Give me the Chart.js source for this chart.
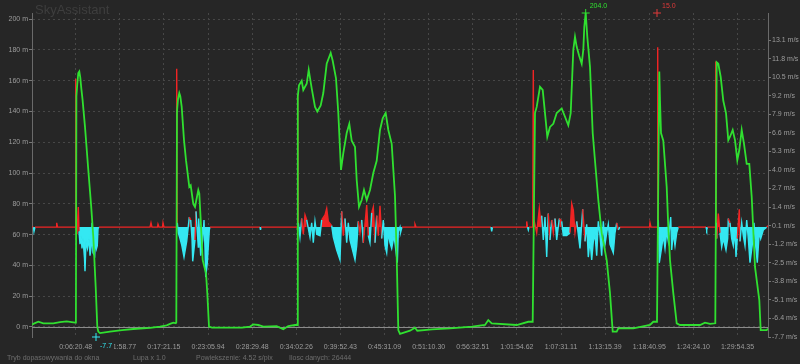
<!DOCTYPE html>
<html lang="pl">
<head>
<meta charset="UTF-8">
<title>SkyAssistant</title>
<script src="https://cdn.jsdelivr.net/npm/chart.js"></script>
<style>
  body { margin: 0; background: #262626; }
  #wrap { position: relative; width: 800px; height: 364px; background: #262626; overflow: hidden;
          font-family: "Liberation Sans", Arial, sans-serif; }
  #title { position: absolute; left: 35px; top: 2px; font-size: 13px; color: #3e3e3e; }
  .status { position: absolute; top: 354px; font-size: 7px; color: #6e6e6e; white-space: nowrap; }
</style>
</head>
<body>
<div id="wrap">
  <canvas id="flight" width="800" height="364"></canvas>
  <div id="title">SkyAssistant</div>
  <span class="status" style="left:7px">Tryb dopasowywania do okna</span>
  <span class="status" style="left:133px">Lupa x 1.0</span>
  <span class="status" style="left:196px">Powiekszenie: 4.52 s/pix</span>
  <span class="status" style="left:289px">Ilosc danych: 26444</span>
</div>
<script>
// x = position along the record (0..736), ticks labelled with flight time
const xTickPos = [43.7, 87.8, 131.9, 176.1, 220.2, 264.3, 308.4, 352.5, 396.7, 440.8, 484.9, 529.0, 573.1, 617.3, 661.4, 705.5];
const xTickLabels = ['0:06:20.48', '0:11:58.77', '0:17:21.15', '0:23:05.94', '0:28:29.48', '0:34:02.26', '0:39:52.43', '0:45:31.09',
                     '0:51:10.30', '0:56:32.51', '1:01:54.62', '1:07:31.11', '1:13:15.39', '1:18:40.95', '1:24:24.10', '1:29:54.35'];
const altTicks = [0, 20, 40, 60, 80, 100, 120, 140, 160, 180, 200];
const vsTicks = [-7.7, -6.4, -5.1, -3.8, -2.5, -1.2, 0.1, 1.4, 2.7, 4.0, 5.3, 6.6, 7.9, 9.2, 10.5, 11.8, 13.1];

// altitude [position, m]
const altitude = [
  [0,1.5],[1.3,2.0],[6.3,3.4],[11.3,2.4],[21.3,2.4],[28,3.2],[34.7,3.7],[39.7,3.2],[43.3,2.8],
  [43.9,3],[44.4,150],[45.3,158],[46.3,165],[47.3,166],[48.3,162],[49.3,155],[50.5,148],[53,130],[56.3,102],
  [59,80],[61.3,58.6],[63.7,26],[65.3,0],[66.3,-3],[68,-4],[78,-3],[90,-2],[101.3,-1.3],[118,-0.6],[128,0.2],
  [134.7,1.1],[138,2.0],[141.3,2.8],[143.7,2.4],[144.3,3],[145,140],[146,148],[147.3,152],[148.3,150],[149.7,143],
  [152,121.4],[154,108.4],[157.3,91],[158.7,92],[161.3,80],[163,78],[166.3,89],[167.3,86.8],[168.7,69.5],[170.7,43.5],
  [174,34.9],[175.3,21.9],[177,0.2],[180,-0.4],[210,-0.4],[218,0.3],[221.3,1.7],[226.3,1.3],[231.3,0.2],[244.7,0.6],
  [251.3,-1.5],[256.3,0.6],[263,1.3],[265.3,1.3],[265.8,150],[267,157],[269.7,160],[271.3,154],[274.7,158],[276.7,167],
  [279.7,155],[283,143],[285.3,140],[288.7,144],[291.3,152],[294.7,171],[298.7,178],[300.7,173],[304,161.5],[306.3,139],
  [309,102],[311.3,113],[314.7,126],[317.3,132],[319.7,121],[323,117],[324.7,95.5],[327,78],[329.7,82.5],[332,89],
  [334.7,82.5],[338,89],[341.3,100],[344.7,108],[348,128],[350.7,135.5],[353.7,139],[356.3,128],[359.7,119],[363,85],
  [364.7,46],[366.3,-2],[368,-4.5],[378,-2.4],[383,-0.4],[385.3,-2.4],[400,-1.5],[418,-0.9],[440,0.2],[453,1.3],
  [456.3,4.5],[459.7,2.4],[484.7,1.3],[496.3,3.4],[500.7,3.4],[503,139],[504.7,143],[508,156],[510.7,154],[513,139],
  [515.3,123.6],[518,130],[521.3,132],[524.7,139],[529.7,142],[533,136.6],[536.3,131],[538.7,139],[541.3,180],[543,188.5],
  [544.7,182],[547,176.6],[549.7,171],[551.3,180],[552.3,195],[553.7,204],[555.3,188.5],[558,169],[560.7,126],[563,108],
  [566.3,82.5],[569.7,61],[574.7,43.5],[578,22],[580.7,-3],[584.7,-3],[586.3,-0.9],[601.3,-0.9],[618,1.3],[621.3,3.4],
  [625,3.4],[627.3,166],[628,147],[629,126],[631.3,121],[634.7,91],[636.3,65],[638,43.5],[641.3,22],[644.7,2.4],
  [648,1.3],[668,1.3],[673,2.8],[678,2.0],[683.3,2.4],[684.7,172],[686.3,171],[688.7,162.5],[691.3,147],[694,139],
  [696.3,121.4],[698,123.6],[700.7,128],[703,121.4],[705.3,108.4],[707.3,115],[709.7,128],[712,119],[714.7,106],[717.3,106],
  [719.7,84.6],[723,39],[727.3,17.5],[728.7,-2],[734.7,-2],[736,-1]
];

// vertical speed [position, m/s]
const vspeed = [
  [0,0],[1.5,0],[2,-0.3],[3,0],[24,0],[24.7,0.3],[25.5,0],[43,0],[43.7,10.4],[44.3,0.5],[45,-0.5],[46.3,1.4],[47,-0.3],[48,-1.2],
  [49,-0.6],[50,-1.5],[51,-0.8],[52.5,-2.2],[53,-3.1],[54,-1.0],[55.5,-1.5],[57,-0.8],[58,-2.0],[59.5,-1.2],[60,0.3],
  [61,-1.8],[62.7,-2.0],[63.5,-0.8],[64.5,-1.5],[65.3,-1.3],[66,-0.1],[67,0],[118,0],[119,0.3],[120,0],[125.5,0],[126,0.2],[127,0],
  [130.5,0],[131,0.3],[132,0],[144,0],[144.7,11.1],[145.3,0.3],[146.3,-0.4],[148,-0.8],[149.7,-1.25],[152,-2.1],[154.7,-1.0],
  [157.3,0.7],[158.7,0.5],[160,-0.8],[160.7,-2.4],[163,-0.9],[164,1.1],[166.3,-1.4],[166.7,0.6],[168.7,-2.0],[170.7,-0.9],
  [172,0.5],[173,-1.5],[173.7,-3.5],[175.3,-2.5],[177.3,-0.2],[178,0],[228,0],[228.5,-0.2],[229,0],[265.3,0],[265.7,9.3],
  [266.3,0.3],[268,-0.7],[269.7,0.6],[271.3,-0.5],[273,0.85],[274.7,0.5],[278,-0.7],[279.7,0.3],[281.3,-1.1],[283,0.4],
  [284.7,-0.5],[288,-0.6],[289.7,0.5],[293,0.85],[294.7,1.3],[296.3,0.4],[299.7,0.1],[301.3,-0.7],[304.7,-1.6],[308,-2.3],
  [309.7,1.1],[311.3,-0.6],[313,0.6],[314.7,-1.1],[316.3,0.3],[318,-0.9],[323,-2.3],[324.7,-1.3],[326.3,0.4],[328,-0.4],
  [329.7,0.5],[331.3,-1.1],[334.7,1.55],[336.3,-0.6],[338,-1.1],[339.7,1.0],[341.3,1.4],[343,-1.1],[344.7,0.8],[346.3,-0.6],
  [348,1.5],[349.7,-0.8],[351.3,0.5],[353,-1.3],[354.7,-1.8],[356.3,-0.4],[358,-1.1],[359.7,-1.5],[362,-0.6],[363.3,-1.3],
  [365.3,-2.5],[366.3,-0.3],[368,0],[368.5,-0.4],[370,0],[382.5,0],[383,0.2],[384,0],[459,0],[459.7,-0.3],[460.5,0],[494,0],
  [494.7,0.4],[495.5,0],[496.3,-0.2],[497,0],[500.7,0],[501.3,11.0],[502,0.5],[504.7,-0.4],[507.3,1.3],[508.7,0.3],[509.7,0.8],
  [511.3,-0.9],[513,0.7],[514.7,-2.1],[516.3,0.95],[518,-0.9],[519.7,0.5],[521.3,-0.4],[523,0.6],[524.7,-0.9],[527.3,0.6],
  [529.7,0.4],[531.3,-0.6],[534.7,-0.6],[538,-0.4],[539.7,1.65],[541.3,1.2],[543,-0.4],[544.7,0.4],[548,-1.5],[550.7,1.25],
  [553,-1.0],[554.7,0.2],[556.3,-2.1],[558,-0.9],[559.7,-2.3],[561.3,-1.0],[563,-0.5],[564.7,-2.0],[566.3,0.4],[568,-0.6],
  [569.7,-2.0],[571.3,0.4],[573,-1.2],[574.7,-0.4],[576.3,0.2],[578,-1.2],[581.3,-1.8],[583,-0.4],[584.7,0.3],[586.3,-0.2],
  [588,0],[617.5,0],[618,0.3],[619,0],[625.3,0],[625.7,12.6],[626.3,0.5],[627.3,-2.5],[629.7,-1.4],[631.3,-0.6],[633,-1.5],
  [634.7,-0.3],[636.3,-1.0],[638.7,0.7],[639.7,-1.6],[641.3,-0.4],[643,-1.3],[644.7,-0.4],[646.3,0],[674,0],[674.7,-0.2],
  [675.5,0],[683.3,0],[683.7,11.6],[684.3,0.3],[684.7,-0.8],[686.3,0.95],[688,-0.4],[689.7,-1.4],[691.3,-0.8],[694,-1.6],
  [695.7,-0.8],[696.3,0.6],[698,0.3],[699.7,-0.8],[701.3,-1.3],[703,-0.3],[704,-2.1],[705.3,-0.8],[707.3,1.25],[708,-1.0],
  [709.7,0.3],[711.3,-0.6],[713,-1.3],[714.7,0.5],[716.3,-0.8],[718,-2.5],[720.7,-1.0],[722,0.3],[723,-0.8],[725.3,-2.5],
  [727.3,-0.3],[728.7,-0.8],[731.3,-0.2],[734.7,0],[736,0.1]
];

// recorded extremes
const extremeLabels = ['204.0', '15.0', '-7.7'];
const extremePos = [553.7, 625.0, 64.0];
const extremeVal = [204.0, 15.0, -7.7];

const GREEN = '#30e030', RED = '#f02424', CYAN = '#34e8f2';
const FONT = '"Liberation Sans", Arial, sans-serif';
const extremeStyle = [
  { axis: 'yAlt', color: GREEN, dx: 4, dy: -7, bg: false },
  { axis: 'yVs', color: '#e03a3a', dx: 5, dy: -7, bg: false },
  { axis: 'yVs', color: CYAN, dx: 4, dy: 9, bg: true }
];

const toXY = rows => rows.map(r => ({ x: r[0], y: r[1] }));

const overlay = {
  id: 'overlay',
  beforeDatasetsDraw(chart) {
    const { ctx, chartArea: a, scales } = chart;
    const y0 = Math.round(scales.yAlt.getPixelForValue(0)) + 0.5;
    ctx.save();
    ctx.strokeStyle = '#8a8a8a';
    ctx.lineWidth = 1;
    ctx.beginPath();
    ctx.moveTo(a.left, y0);
    ctx.lineTo(a.right, y0);
    ctx.stroke();
    ctx.restore();
  },
  afterDatasetsDraw(chart) {
    const { ctx } = chart;
    ctx.save();
    ctx.font = '7px ' + FONT;
    ctx.textBaseline = 'middle';
    extremeLabels.forEach((label, i) => {
      const st = extremeStyle[i];
      const p = chart.getDatasetMeta(2 + i).data[0];
      const tx = p.x + st.dx, ty = p.y + st.dy;
      const w = ctx.measureText(label).width;
      if (st.bg) {
        ctx.fillStyle = '#262626';
        ctx.fillRect(tx - 1, ty - 5, w + 3, 10);
      }
      ctx.fillStyle = st.color;
      ctx.fillText(label, tx, ty);
    });
    ctx.restore();
  }
};

const extremeSets = extremeLabels.map((label, i) => ({
  label: label,
  data: [{ x: extremePos[i], y: extremeVal[i] }],
  yAxisID: extremeStyle[i].axis,
  showLine: false,
  pointStyle: 'cross',
  pointRadius: 4,
  borderWidth: 1,
  borderColor: extremeStyle[i].color,
  clip: false,
  order: -1
}));

new Chart(document.getElementById('flight'), {
  type: 'line',
  data: {
    datasets: [
      {
        label: 'Wysokosc',
        data: toXY(altitude),
        yAxisID: 'yAlt',
        borderColor: GREEN,
        borderWidth: 1.8,
        pointRadius: 0,
        tension: 0
      },
      {
        label: 'Predkosc pionowa',
        data: toXY(vspeed),
        yAxisID: 'yVs',
        borderColor: RED,
        borderWidth: 1.4,
        pointRadius: 0,
        tension: 0,
        fill: { target: { value: 0 }, above: RED, below: CYAN },
        segment: {
          borderColor: c => (c.p0.parsed.y + c.p1.parsed.y) / 2 < 0 ? CYAN : RED
        }
      },
      ...extremeSets
    ]
  },
  options: {
    responsive: false,
    animation: false,
    layout: { padding: { top: 13, left: 0, right: 0, bottom: 0 } },
    plugins: { legend: { display: false }, tooltip: { enabled: false } },
    scales: {
      x: {
        type: 'linear',
        min: 0,
        max: 736,
        afterBuildTicks: s => { s.ticks = xTickPos.map(v => ({ value: v })); },
        afterFit: s => { s.height = 27; },
        ticks: {
          callback: (v, i) => xTickLabels[i],
          autoSkip: false,
          maxRotation: 0,
          padding: 6,
          color: '#9c9c9c',
          font: { size: 7, family: FONT }
        },
        grid: { color: '#474747', drawTicks: false },
        border: { display: false, dash: [2, 3] }
      },
      yAlt: {
        position: 'left',
        min: -6.5,
        max: 204,
        afterBuildTicks: s => { s.ticks = altTicks.map(v => ({ value: v })); },
        afterFit: s => { s.width = 32; },
        ticks: {
          callback: v => v + ' m',
          padding: 1,
          color: '#9c9c9c',
          font: { size: 7, family: FONT }
        },
        grid: { color: '#474747', tickColor: '#777', tickLength: 3 },
        border: { display: true, color: '#6a6a6a', dash: [2, 3] }
      },
      yVs: {
        position: 'right',
        min: -7.7,
        max: 15.0,
        afterBuildTicks: s => { s.ticks = vsTicks.map(v => ({ value: v })); },
        afterFit: s => { s.width = 32; },
        ticks: {
          callback: v => v.toFixed(1) + ' m/s',
          padding: 1,
          color: '#9c9c9c',
          font: { size: 7, family: FONT }
        },
        grid: { drawOnChartArea: false, tickColor: '#777', tickLength: 3 },
        border: { display: true, color: '#6a6a6a' }
      }
    }
  },
  plugins: [overlay]
});
</script>
</body>
</html>
